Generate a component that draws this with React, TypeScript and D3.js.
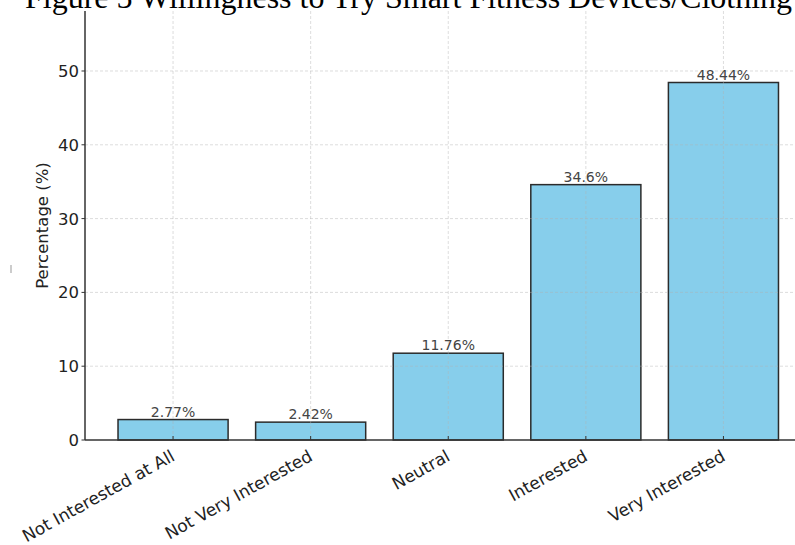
import React from "react";
import * as d3 from "d3";

const categories = ["Not Interested at All", "Not Very Interested", "Neutral", "Interested", "Very Interested"];
const values = [2.77, 2.42, 11.76, 34.6, 48.44];
const yTicks = [0, 10, 20, 30, 40, 50];
const title = "Figure 5 Willingness to Try Smart Fitness Devices/Clothing";
const yLabel = "Percentage (%)";

const W = 795;
const H = 545;
const left = 85;
const bottom = 440;
const top = 11;

export default function App() {
  const x = d3.scaleLinear().domain([-0.64, 4.64]).range([left, 811.5]);
  const y = d3.scaleLinear().domain([0, d3.max(values)! * 1.2]).range([bottom, top]);
  const bw = x(0.4) - x(-0.4);
  const font = "DejaVu Sans, sans-serif";

  return (
    <svg width={W} height={H} style={{ position: "absolute", left: 0, top: 0, background: "#fff" }}>
      <text x={25} y={8} fontFamily="Liberation Serif, Times New Roman, serif" fontSize={32} fill="#000">
        {title}
      </text>
      {/* bars */}
      {values.map((v, i) => (
        <rect
          key={"b" + i}
          x={x(i) - bw / 2}
          y={y(v)}
          width={bw}
          height={y(0) - y(v)}
          fill="#87CEEB"
          stroke="#2b2b2b"
          strokeWidth={1.5}
        />
      ))}
      {/* grid */}
      <g stroke="#b0b0b0" strokeOpacity={0.55} strokeDasharray="3,2" strokeWidth={0.8}>
        {yTicks.filter((t) => t > 0).map((t) => (
          <line key={"gy" + t} x1={left} x2={W} y1={y(t)} y2={y(t)} />
        ))}
        {categories.map((c, i) => (
          <line key={"gx" + i} x1={x(i)} x2={x(i)} y1={top} y2={bottom} />
        ))}
      </g>
      {/* value labels */}
      {values.map((v, i) => (
        <text
          key={"v" + i}
          x={x(i)}
          y={y(v) - 3}
          textAnchor="middle"
          fontFamily={font}
          fontSize={14}
          fill="#444"
        >
          {`${v}%`}
        </text>
      ))}
      {/* axes */}
      <line x1={left} x2={left} y1={top} y2={bottom} stroke="#333" strokeWidth={1.5} />
      <line x1={left} x2={W} y1={bottom} y2={bottom} stroke="#333" strokeWidth={1.5} />
      {yTicks.map((t) => (
        <g key={"yt" + t}>
          <line x1={left - 3.5} x2={left} y1={y(t)} y2={y(t)} stroke="#333" strokeWidth={1} />
          <text
            x={left - 6}
            y={y(t)}
            dy="0.36em"
            textAnchor="end"
            fontFamily={font}
            fontSize={16.5}
            fill="#222"
          >
            {t}
          </text>
        </g>
      ))}
      {categories.map((c, i) => (
        <g key={"xt" + i}>
          <line x1={x(i)} x2={x(i)} y1={bottom} y2={bottom - 4} stroke="#333" strokeWidth={1} />
          <text
            transform={`translate(${x(i) - 3},${bottom + 9}) rotate(-29)`}
            textAnchor="end"
            dy="0.72em"
            fontFamily={font}
            fontSize={17}
            fill="#222"
          >
            {c}
          </text>
        </g>
      ))}
      <text
        transform={`translate(42,${(top + bottom) / 2}) rotate(-90)`}
        textAnchor="middle"
        dy="0.35em"
        fontFamily={font}
        fontSize={16.5}
        fill="#222"
      >
        {yLabel}
      </text>
      <line x1={11} x2={11} y1={265} y2={273} stroke="#aaa" strokeWidth={1.2} />
    </svg>
  );
}
